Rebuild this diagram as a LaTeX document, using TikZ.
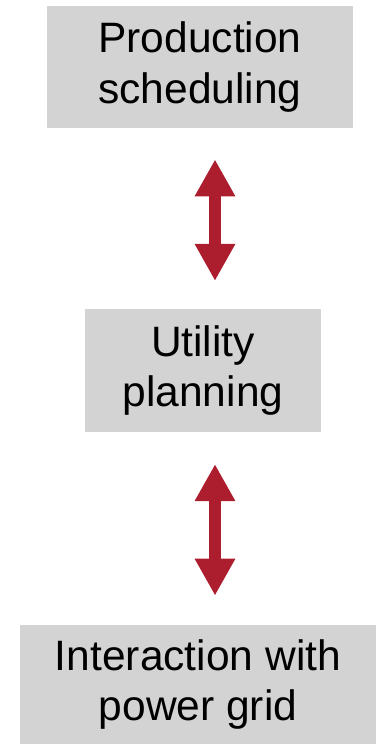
\documentclass[tikz,border=0pt]{standalone}
\usepackage{fontspec}
\setmainfont{Liberation Sans}
\usetikzlibrary{arrows.meta}
\definecolor{boxgray}{RGB}{211,211,211}
\definecolor{linkred}{RGB}{172,30,46}
\begin{document}
\begin{tikzpicture}
\tikzset{stage/.style={fill=boxgray, inner sep=0pt, align=center, font=\fontsize{24.2}{28.5}\selectfont},
  link/.style={linkred, line width=0.24cm, {Triangle[width=0.76cm,length=0.74cm]}-{Triangle[width=0.76cm,length=0.74cm]}}}
\useasboundingbox (0,0) rectangle (7.52,-14.88);
\node[stage, minimum width=6.12cm, minimum height=2.44cm] (sched) at (4.00,-1.34) {Production\\scheduling};
\node[stage, minimum width=4.72cm, minimum height=2.45cm] (util) at (4.06,-7.41) {Utility\\planning};
\node[stage, minimum width=7.12cm, minimum height=2.38cm] (grid) at (3.96,-13.69) {Interaction with\\power grid};
\draw[link, shorten <=0.62cm, shorten >=0.56cm] ([xshift=0.30cm]sched.south) -- ([xshift=0.24cm]util.north);
\draw[link, shorten <=0.64cm, shorten >=0.58cm] ([xshift=0.24cm]util.south) -- ([xshift=0.34cm]grid.north);
\end{tikzpicture}
\end{document}
